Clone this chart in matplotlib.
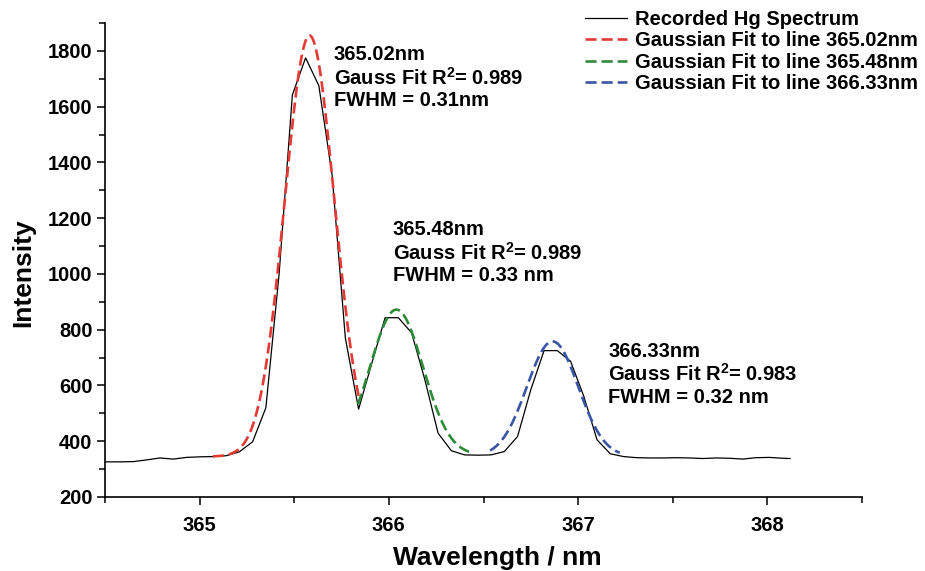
import numpy as np
import matplotlib
matplotlib.use("Agg")
import matplotlib.pyplot as plt
from matplotlib.ticker import MultipleLocator

plt.rcParams['font.family'] = 'Liberation Sans'
plt.rcParams['font.weight'] = 'bold'
plt.rcParams['mathtext.fontset'] = 'custom'
plt.rcParams['mathtext.rm'] = 'Liberation Sans:bold'
plt.rcParams['mathtext.bf'] = 'Liberation Sans:bold'
plt.rcParams['mathtext.it'] = 'Liberation Sans:bold'

# Recorded Hg spectrum (wavelength in nm, intensity in counts)
wavelength = [364.44, 364.51, 364.58, 364.65, 364.72, 364.79, 364.86, 364.93, 365.00,
              365.07, 365.14, 365.21, 365.28, 365.35, 365.42, 365.49, 365.56, 365.63,
              365.70, 365.77, 365.84, 365.91, 365.98, 366.05, 366.12, 366.19, 366.26,
              366.33, 366.40, 366.47, 366.54, 366.61, 366.68, 366.75, 366.82, 366.89,
              366.96, 367.03, 367.10, 367.17, 367.24, 367.31, 367.38, 367.45, 367.52,
              367.59, 367.66, 367.73, 367.80, 367.87, 367.94, 368.01, 368.08, 368.12]
intensity = [326, 326, 326, 327, 333, 340, 336, 342, 344,
             345, 348, 362, 398, 520, 1000, 1642, 1775, 1675,
             1354, 770, 515, 680, 843, 843, 789, 621, 429,
             366, 351, 350, 351, 363, 417, 585, 725, 725,
             687, 561, 405, 355, 345, 341, 340, 340, 341,
             340, 338, 340, 339, 336, 341, 342, 339, 338]

# Gaussian fit parameters for the three lines
fit_labels = ['Gaussian Fit to line 365.02nm',
              'Gaussian Fit to line 365.48nm',
              'Gaussian Fit to line 366.33nm']
fit_centers = [365.581, 366.04, 366.865]
fit_peaks = [1855, 872, 758]
fit_offsets = [345, 350, 345]
fit_fwhm = [0.31, 0.33, 0.32]
fit_starts = [365.07, 365.837, 366.535]
fit_ends = [365.845, 366.44, 367.22]
fit_colors = ['#e53935', '#2e8b3a', '#3a55a5']

notes = ["365.02nm\nGauss Fit R$^{2}$= 0.989\nFWHM = 0.31nm",
         "365.48nm\nGauss Fit R$^{2}$= 0.989\nFWHM = 0.33 nm",
         "366.33nm\nGauss Fit R$^{2}$= 0.983\nFWHM = 0.32 nm"]
note_x = [365.71, 366.02, 367.16]
note_y = [1822, 1192, 757]

fig = plt.figure(figsize=(9.25, 5.71), dpi=100)
ax = fig.add_axes([105 / 925, 1 - 497 / 571, (862 - 105) / 925, (497 - 23) / 571])

ax.plot(wavelength, intensity, color='black', lw=0.9, label='Recorded Hg Spectrum', zorder=2)

for c, pk, off, fw, x0, x1, col, lab in zip(fit_centers, fit_peaks, fit_offsets, fit_fwhm,
                                             fit_starts, fit_ends, fit_colors, fit_labels):
    sigma = fw / (2 * np.sqrt(2 * np.log(2)))
    xs = np.linspace(x0, x1, 200)
    ys = off + (pk - off) * np.exp(-(xs - c) ** 2 / (2 * sigma ** 2))
    ax.plot(xs, ys, color=col, lw=1.9, dashes=(4.2, 1.9), label=lab, zorder=3)

for txt, tx, ty in zip(notes, note_x, note_y):
    ax.text(tx, ty, txt, fontsize=14.5, va='top', ha='left', linespacing=1.15)

ax.set_xlim(364.5, 368.5)
ax.set_ylim(200, 1900)
ax.xaxis.set_major_locator(MultipleLocator(1))
ax.xaxis.set_minor_locator(MultipleLocator(0.5))
ax.yaxis.set_major_locator(MultipleLocator(200))
ax.yaxis.set_minor_locator(MultipleLocator(100))

for side in ['top', 'right']:
    ax.spines[side].set_visible(False)
for side in ['left', 'bottom']:
    ax.spines[side].set_linewidth(1.2)

ax.tick_params(which='major', direction='out', length=6, width=1.1, labelsize=14.5, pad=3)
ax.tick_params(which='minor', direction='out', length=4, width=1.1)
ax.tick_params(axis='x', pad=8)

ax.set_xlabel('Wavelength / nm', fontsize=19, fontweight='bold')
ax.set_ylabel('Intensity', fontsize=19, fontweight='bold')
ax.xaxis.set_label_coords(0.518, -0.104)
ax.yaxis.set_label_coords(-0.092, 0.473)

ax.legend(loc='upper left', bbox_to_anchor=(585 / 925, 1 - 10 / 571),
          bbox_transform=fig.transFigure, frameon=False, fontsize=14.5,
          handlelength=2.1, handletextpad=0.4, labelspacing=0.12,
          borderpad=0, borderaxespad=0)

fig.savefig('out.png', dpi=100)
